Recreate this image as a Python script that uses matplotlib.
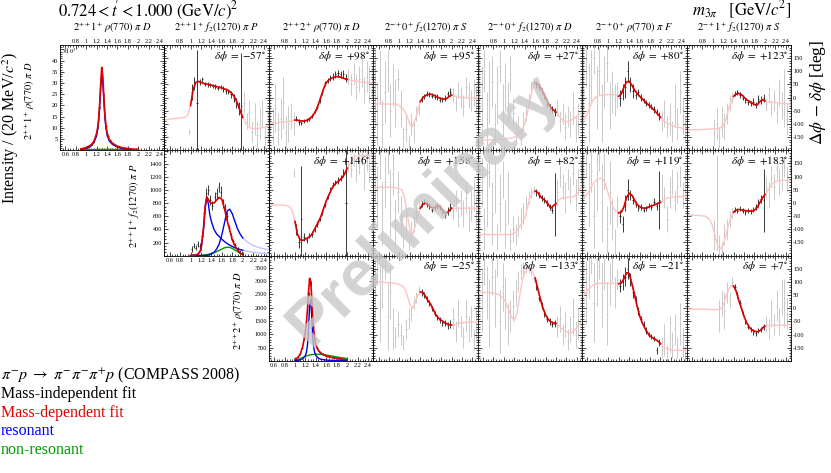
import numpy as np
import matplotlib
matplotlib.use('Agg')
import matplotlib.pyplot as plt
from matplotlib.ticker import MultipleLocator, FuncFormatter

plt.rcParams['font.family'] = ['Liberation Serif', 'DejaVu Serif']
plt.rcParams['mathtext.fontset'] = 'stix'
plt.rcParams['axes.unicode_minus'] = False

# ---- waves (columns = second wave, rows = first wave) ----
wave_titles = [r'$2^{++}1^{+}\ \rho(770)\ \pi\ D$',
               r'$2^{++}1^{+}\ f_2(1270)\ \pi\ P$',
               r'$2^{++}2^{+}\ \rho(770)\ \pi\ D$',
               r'$2^{-+}0^{+}\ f_2(1270)\ \pi\ S$',
               r'$2^{-+}0^{+}\ f_2(1270)\ \pi\ D$',
               r'$2^{-+}0^{+}\ \rho(770)\ \pi\ F$',
               r'$2^{-+}1^{+}\ f_2(1270)\ \pi\ S$']
wave_fit_lo = [0.9, 1.0, 1.0, 1.4, 1.6, 1.2, 1.4]
wave_fit_hi = [2.0, 2.0, 2.0, 2.0, 2.0, 2.0, 2.0]

delta_phi_row0 = [-57, 98, 95, 27, 80, 123]
delta_phi_row1 = [146, 158, 82, 119, 183]
delta_phi_row2 = [-25, -133, -21, 7]

# mass grids [GeV/c^2]
mass_curve = np.round(np.arange(0.50, 2.501, 0.05), 3)   # 41 points
mass_bins = np.round(np.arange(0.525, 2.50, 0.05), 3)    # 40 bins

# ---- phase fit curves (deg) on mass_curve ----
curve_0_1 = [-85, -83, -82, -80, -79, -78, -77, -76, -74, -66,
             -30, 30, 58, 62, 58, 54, 52, 50, 47, 45,
             42, 40, 37, 33, 29, 24, 14, 0, -22, -50,
             -75, -95, -108, -115, -117, -118, -117, -115, -113, -110, -108]
curve_0_2 = [-98, -97, -96, -95, -94, -93, -92, -91, -90, -88,
             -85, -86, -88, -89, -88, -84, -77, -66, -50, -25,
             5, 35, 57, 68, 74, 78, 80, 79, 76, 72,
             69, 67, 65, 63, 62, 60, 59, 58, 57, 56, 55]
curve_0_3 = [-25, -25, -24, -24, -24, -24, -24, -24, -24, -26,
             -30, -38, -52, -72, -100, -110, -85, -50, -15, 0,
             8, 12, 13, 10, 5, 0, -4, -6, -4, 4,
             10, 6, 3, 2, 1, 0, 0, -1, -1, -2, -2]
curve_0_4 = [-162, -162, -161, -161, -160, -160, -160, -159, -159, -158,
             -157, -156, -155, -153, -150, -145, -135, -120, -100, -60,
             -10, 35, 55, 52, 38, 20, 0, -22, -38, -47,
             -55, -68, -80, -88, -91, -90, -85, -78, -70, -63, -58]
curve_0_5 = [-95, -80, -60, -35, -12, 0, 6, 9, 10, 11,
             12, 12, 11, 9, 5, 14, 40, 60, 62, 48,
             30, 16, 6, -4, -15, -24, -32, -42, -52, -63,
             -75, -85, -93, -99, -104, -108, -111, -113, -115, -116, -117]
curve_0_6 = [-123, -123, -122, -122, -122, -121, -121, -120, -120, -119,
             -119, -118, -117, -115, -108, -85, -47, -15, 5, 14,
             16, 12, 2, -8, -14, -20, -26, -28, -16, -8,
             -12, -15, -17, -18, -19, -20, -21, -22, -23, -24, -25]
curve_1_2 = [-8, -8, -8, -8, -8, -8, -9, -11, -15, -30,
             -70, -120, -140, -142, -138, -132, -125, -110, -90, -72,
             -50, -20, 8, 30, 52, 68, 78, 86, 95, 110,
             132, 150, 165, 174, 178, 180, 181, 181, 181, 181, 181]
curve_1_3 = [60, 60, 60, 60, 60, 60, 60, 59, 58, 56,
             54, 50, 20, -40, -100, -120, -90, -50, -20, -5,
             0, -5, -15, -20, -15, -10, -20, -35, -40, -30,
             -20, -20, -20, -20, -20, -20, -20, -20, -20, -20, -20]
curve_1_4 = [-120, -120, -120, -120, -120, -120, -120, -120, -120, -120,
             -120, -120, -120, -119, -115, -105, -90, -75, -60, -20,
             20, 40, 45, 40, 25, 15, 8, -5, -20, -10,
             -3, 10, 18, 20, 21, 22, 22, 25, 35, 50, 65]
curve_1_5 = [15, 22, 35, 52, 70, 83, 90, 94, 90, 70,
             35, 5, -20, -32, -38, -35, -15, 20, 37, 30,
             12, -5, -14, -19, -20, -17, -13, -10, -6, -2,
             2, 10, 16, 19, 21, 22, 23, 24, 24, 25, 25]
curve_1_6 = [-46, -46, -47, -47, -47, -48, -49, -50, -55, -66,
             -88, -130, -168, -175, -160, -125, -85, -55, -35, -27,
             -25, -26, -28, -30, -31, -31, -28, -18, 0, 18,
             32, 45, 60, 73, 80, 84, 86, 86, 85, 84, 83]
curve_2_3 = [100, 100, 100, 99, 99, 98, 97, 96, 95, 93,
             90, 86, 75, 50, 15, 0, 20, 50, 62, 60,
             45, 28, 15, -5, -25, -38, -45, -52, -58, -62,
             -64, -63, -60, -57, -55, -54, -53, -52, -52, -51, -51]
curve_2_4 = [60, 60, 60, 60, 59, 58, 57, 55, 52, 45,
             35, 15, -10, -35, -45, -20, 40, 100, 135, 150,
             150, 138, 115, 75, 35, 0, -25, -42, -52, -56,
             -57, -65, -75, -84, -90, -93, -92, -85, -72, -60, -50]
curve_2_5 = [40, 55, 68, 78, 86, 91, 94, 95, 95, 95,
             95, 95, 94, 93, 93, 96, 112, 135, 132, 95,
             55, 10, -28, -55, -75, -93, -105, -112, -118, -125,
             -135, -145, -152, -156, -158, -159, -160, -160, -160, -160, -160]
curve_2_6 = [-3, -3, -3, -3, -3, -4, -4, -4, -4, -5,
             -5, -5, -5, -3, 10, 40, 70, 86, 85, 65,
             30, 0, -30, -55, -72, -82, -87, -89, -86, -76,
             -68, -66, -66, -66, -65, -65, -64, -64, -64, -63, -63]

# ---- mass-independent phases (deg) and errors on mass_bins ----
N = None
phase_0_1 = [N, N, N, N, N, N, N, N, N, -130,
             20, 55, -20, 60, 70, 52, 50, 48, 45, 42,
             38, 40, 33, 25, 22, 12, 0, -20, -40, -30,
             -20, -90, -60, -130, -80, -140, -100, -60, -150, -110]
err_0_1 = [N, N, N, N, N, N, N, N, N, 12,
           30, 25, 200, 12, 10, 8, 8, 8, 8, 8,
           8, 8, 10, 10, 10, 12, 15, 20, 25, 200,
           40, 30, 50, 40, 60, 50, 60, 50, 40, 60]
phase_0_2 = [-60, -110, -40, -120, -80, -20, -130, -100, -70, -100,
             -80, -92, -95, -88, -86, -82, -70, -52, -35, -10,
             20, 55, 65, 75, 80, 88, 92, 88, 90, 75,
             80, 50, 90, 40, 70, 100, 30, 80, 50, 60]
err_0_2 = [80, 70, 90, 60, 80, 100, 60, 70, 50, 40,
           10, 10, 8, 8, 8, 8, 8, 8, 10, 10,
           10, 10, 10, 10, 12, 12, 12, 12, 15, 15,
           30, 40, 40, 50, 50, 60, 50, 60, 70, 60]
phase_0_3 = [40, -60, 80, -100, 20, 100, -50, 50, -20, 70,
             -40, -150, -120, -170, -100, -130, -60, -40, -5, 5,
             15, 12, 8, 4, 2, -8, -6, -2, 15, 20,
             10, -20, 30, 0, -30, 40, 10, -10, 20, -5]
err_0_3 = [150, 120, 100, 90, 120, 80, 100, 80, 90, 40,
           70, 40, 50, 30, 40, 40, 30, 25, 12, 10,
           10, 10, 10, 10, 10, 10, 10, 12, 12, 15,
           25, 30, 30, 40, 40, 40, 50, 40, 50, 50]
phase_0_4 = [50, -30, 100, -80, 20, 60, -100, 10, 120, -50,
             40, -20, 90, -60, -130, -110, -150, -90, -60, -10,
             40, 65, 50, 40, 25, 5, -25, -35, -45, -55,
             -40, -90, -60, -110, -70, -100, -40, -120, -80, -30]
err_0_4 = [120, 150, 80, 100, 120, 100, 80, 110, 60, 100,
           90, 80, 70, 60, 40, 40, 30, 35, 30, 25,
           20, 15, 12, 12, 12, 12, 12, 12, 15, 15,
           30, 40, 40, 50, 40, 50, 60, 50, 60, 70]
phase_0_5 = [50, 120, -20, 80, 150, 0, 100, -60, 60, 130,
             -30, 20, -10, 10, 0, 20, 40, 100, 50, 25,
             10, 20, 0, -10, -20, -28, -35, -45, -55, -70,
             -90, -60, -110, -80, -130, -30, -100, 20, -70, -120]
err_0_5 = [150, 80, 150, 100, 60, 120, 90, 110, 100, 70,
           90, 80, 60, 50, 30, 30, 40, 40, 30, 25,
           15, 12, 12, 10, 10, 10, 10, 12, 12, 15,
           40, 50, 40, 60, 40, 80, 60, 80, 70, 50]
phase_0_6 = [N, N, N, N, N, N, N, N, N, N,
             -130, -100, -150, -90, -110, -60, -20, 0, 15, 20,
             10, 0, -10, -18, -22, -15, -28, -5, -10, 0,
             -25, 10, -40, -10, -60, 20, -30, 0, -80, 40]
err_0_6 = [N, N, N, N, N, N, N, N, N, N,
           50, 60, 40, 60, 50, 40, 30, 20, 10, 10,
           10, 10, 10, 10, 10, 12, 12, 15, 15, 15,
           25, 30, 30, 40, 40, 50, 50, 110, 60, 70]
phase_1_2 = [N, N, N, N, N, N, N, N, N, 115,
             -100, -150, -60, -130, -140, -125, -118, -100, -80, -60,
             -35, -5, 25, 50, 70, 78, 85, 95, 115, 0,
             140, 130, 165, 120, 150, 175, 100, 160, 130, 170]
err_1_2 = [N, N, N, N, N, N, N, N, N, 15,
           20, 20, 200, 15, 12, 10, 10, 10, 10, 10,
           10, 10, 10, 10, 10, 10, 12, 12, 15, 200,
           20, 30, 25, 40, 40, 30, 50, 40, 50, 40]
phase_1_3 = [100, 20, 150, -40, 80, 160, 0, 110, -80, 40,
             -50, -130, -90, -150, -110, -70, -40, -20, -5, 5,
             -5, -12, -25, -15, -12, -18, -30, -45, -30, -15,
             -30, 10, -50, 0, -40, 20, -60, -10, 30, -30]
err_1_3 = [100, 120, 60, 120, 100, 50, 130, 80, 90, 80,
           80, 40, 50, 30, 40, 40, 30, 20, 12, 10,
           10, 10, 10, 10, 10, 10, 12, 12, 15, 15,
           30, 40, 40, 50, 50, 60, 50, 60, 60, 60]
phase_1_4 = [-50, 80, -100, 30, 120, -40, 60, -130, 0, 90,
             -80, 20, -140, -100, -120, -90, -60, -40, 0, 20,
             40, 50, 40, 30, 20, 10, 0, -15, -25, -5,
             40, 100, 60, 20, 90, 50, 110, 30, 80, 120]
err_1_4 = [120, 90, 80, 120, 60, 120, 100, 50, 110, 70,
           90, 100, 40, 50, 40, 40, 40, 40, 30, 25,
           20, 15, 12, 12, 12, 12, 12, 12, 15, 120,
           50, 40, 50, 60, 40, 50, 40, 60, 50, 40]
phase_1_5 = [100, 150, 30, 120, -50, 80, 160, 0, 120, -100,
             40, -60, -150, -30, -50, -80, 0, 50, 30, 10,
             -5, -20, -15, -25, -20, -10, -15, 5, -10, 10,
             60, 20, -60, 40, 80, 10, 60, 100, 30, 70]
err_1_5 = [100, 50, 120, 80, 120, 110, 40, 150, 70, 90,
           120, 80, 50, 60, 25, 30, 30, 40, 20, 15,
           12, 12, 10, 10, 10, 10, 12, 12, 15, 110,
           50, 40, 50, 60, 50, 40, 60, 40, 50, 60]
phase_1_6 = [N, N, N, N, N, N, N, N, N, N,
             -120, 0, -160, -180, -120, -100, -60, -40, -25, -30,
             -22, -30, -35, -28, -32, -25, -15, 0, 15, 10,
             60, 30, 100, 60, 130, 80, 110, 140, 90, 150]
err_1_6 = [N, N, N, N, N, N, N, N, N, N,
           60, 180, 40, 30, 40, 40, 30, 20, 10, 10,
           10, 10, 10, 10, 10, 10, 12, 15, 15, 120,
           40, 50, 40, 50, 40, 50, 60, 40, 50, 40]
phase_2_3 = [80, 150, 20, 100, 160, -30, 60, -80, -110, -60,
             -100, -130, -80, -40, -20, 20, 40, 70, 60, 50,
             35, 20, 0, -20, -35, -45, -55, -55, -65, -60,
             -40, -90, -20, -70, -110, -30, -80, -50, -120, -60]
err_2_3 = [120, 60, 150, 100, 50, 130, 100, 80, 40, 50,
           40, 30, 40, 40, 30, 25, 20, 15, 12, 12,
           10, 10, 10, 10, 10, 10, 12, 12, 12, 15,
           40, 40, 50, 40, 40, 60, 50, 60, 40, 60]
phase_2_4 = [100, 30, 150, 60, -20, 120, 40, 160, -50, 80,
             20, -60, -30, 10, 60, 100, 140, 150, 155, 150,
             140, 110, 80, 40, 10, -20, -40, -50, -60, -58,
             -70, -40, -100, -60, -120, -80, -30, -100, -60, -150]
err_2_4 = [100, 120, 60, 100, 130, 70, 110, 40, 120, 90,
           100, 80, 60, 60, 50, 40, 30, 25, 20, 15,
           12, 12, 12, 12, 12, 12, 12, 12, 12, 15,
           40, 50, 40, 50, 40, 50, 70, 50, 60, 40]
phase_2_5 = [150, 60, 120, 170, 20, 100, 160, 50, 130, -20,
             90, 150, 60, 110, 85, 100, 120, 150, 110, 60,
             30, -10, -40, -60, -85, -100, -108, -115, -160, -130,
             -150, -120, -170, -100, -140, -80, -150, -60, -130, -170]
err_2_5 = [60, 120, 80, 40, 150, 90, 50, 120, 60, 120,
           80, 50, 60, 40, 25, 30, 35, 40, 25, 20,
           15, 15, 12, 12, 12, 10, 10, 10, 12, 12,
           40, 60, 30, 70, 50, 60, 40, 80, 60, 30]
phase_2_6 = [N, N, N, N, N, N, N, N, N, N, N, N,
             -30, 20, -10, 60, 30, 100, 80, 50,
             20, -20, -50, -70, -80, -90, -95, -85, -80, -70,
             -60, -80, -20, -60, 10, -50, 40, 20, -20, -150]
err_2_6 = [N, N, N, N, N, N, N, N, N, N, N, N,
           60, 50, 70, 40, 30, 20, 12, 12,
           10, 10, 10, 10, 10, 10, 10, 10, 10, 12,
           30, 40, 50, 40, 60, 50, 70, 90, 60, 40]

# ---- intensities ----
# 2++1+ rho pi D  (units of 10^3)
int_mass_0 = [0.90, 1.00, 1.10, 1.15, 1.20, 1.22, 1.24, 1.26, 1.28, 1.30, 1.32,
              1.34, 1.36, 1.38, 1.40, 1.44, 1.50, 1.60, 1.70, 1.80, 1.90, 2.00]
int_total_0 = [0.6, 1.2, 2.5, 4.0, 7.5, 10, 14, 21, 30, 37, 33,
               24, 16, 11, 8, 5, 3.2, 1.8, 1.1, 0.8, 0.5, 0.4]
int_res_0 = [0.3, 0.8, 2.0, 3.4, 6.5, 9, 13, 19.5, 28, 34, 30,
             22, 14.5, 10, 7, 4.3, 2.7, 1.4, 0.8, 0.5, 0.35, 0.25]
int_nonres_0 = [0.1, 0.2, 0.3, 0.35, 0.4, 0.4, 0.4, 0.4, 0.4, 0.4, 0.4,
                0.4, 0.4, 0.4, 0.4, 0.4, 0.4, 0.35, 0.3, 0.25, 0.2, 0.15]

# 2++1+ f2 pi P
int_mass_1 = [1.00, 1.05, 1.10, 1.15, 1.20, 1.25, 1.28, 1.31, 1.34, 1.37, 1.40, 1.45,
              1.50, 1.55, 1.60, 1.65, 1.70, 1.75, 1.80, 1.85, 1.90, 1.95, 2.00]
int_total_1 = [0, 3, 10, 25, 90, 440, 760, 900, 860, 820, 800, 805,
               850, 890, 860, 720, 540, 390, 240, 150, 90, 40, 12]
int_res1_1 = [0, 3, 10, 25, 90, 400, 720, 880, 800, 620, 520, 400,
              330, 290, 250, 215, 185, 160, 140, 120, 105, 92, 82]
int_res2_1 = [0, 0, 0, 0, 0, 1, 2, 4, 8, 14, 25, 50,
              100, 180, 320, 500, 680, 710, 640, 520, 410, 330, 270]
int_nonres_1 = [0, 0, 0, 1, 3, 8, 12, 15, 20, 25, 32, 45,
                60, 80, 100, 120, 128, 125, 110, 85, 60, 35, 20]
ext_mass_1 = [2.0, 2.1, 2.2, 2.3, 2.4, 2.5]
ext_res1_1 = [82, 65, 52, 42, 35, 30]
ext_res2_1 = [270, 200, 155, 125, 105, 90]

# 2++2+ rho pi D
int_mass_2 = [1.00, 1.05, 1.10, 1.15, 1.20, 1.22, 1.24, 1.26, 1.28, 1.30, 1.32,
              1.34, 1.36, 1.38, 1.40, 1.45, 1.50, 1.60, 1.70, 1.80, 1.90, 2.00]
int_total_2 = [60, 120, 250, 550, 1100, 1450, 1950, 2600, 3100, 3000, 2400,
               1700, 1150, 800, 600, 380, 280, 180, 130, 100, 70, 40]
int_res_2 = [10, 20, 40, 80, 200, 330, 600, 1200, 2100, 2300, 1700,
             900, 500, 300, 200, 100, 60, 30, 20, 15, 10, 8]
int_nonres_2 = [0, 30, 80, 130, 170, 185, 200, 210, 220, 230, 235,
                240, 245, 248, 250, 250, 245, 220, 185, 150, 115, 85]

int_data_mass = [1.02, 1.06, 1.10, 1.14, 1.18, 1.22, 1.26, 1.30, 1.34, 1.38, 1.42, 1.46, 1.50,
                 1.54, 1.58, 1.62, 1.66, 1.70, 1.74, 1.78, 1.82, 1.86, 1.90, 1.94, 1.98]
int_data_0 = [1.1, 1.6, 2.4, 3.6, 6.2, 10, 19, 36, 25, 11, 6.5, 4.5, 3.3,
              2.6, 2.0, 1.7, 1.3, 1.1, 0.9, 0.8, 0.7, 0.6, 0.5, 0.45, 0.4]
int_err_0 = [0.2] * 25
int_data_1 = [100, 150, 120, 180, 150, 300, 650, 950, 1000, 850, 760, 900, 950,
              1050, 980, 800, 720, 600, 420, 300, 220, 160, 90, 60, 40]
int_err_1 = [40, 40, 40, 50, 50, 60, 70, 80, 80, 70, 70, 80, 80,
             80, 80, 70, 70, 60, 50, 50, 40, 40, 40, 30, 30]
int_data_2 = [80, 150, 280, 500, 850, 1500, 2500, 2900, 1600, 800, 500, 380, 300,
              250, 200, 170, 150, 130, 120, 100, 100, 90, 70, 60, 50]
int_err_2 = [30, 30, 40, 50, 60, 80, 90, 90, 80, 60, 40, 30, 30,
             30, 30, 30, 30, 25, 25, 25, 25, 25, 25, 25, 25]

phase_curves = {(0, 1): curve_0_1, (0, 2): curve_0_2, (0, 3): curve_0_3, (0, 4): curve_0_4,
                (0, 5): curve_0_5, (0, 6): curve_0_6, (1, 2): curve_1_2, (1, 3): curve_1_3,
                (1, 4): curve_1_4, (1, 5): curve_1_5, (1, 6): curve_1_6, (2, 3): curve_2_3,
                (2, 4): curve_2_4, (2, 5): curve_2_5, (2, 6): curve_2_6}
phase_data = {(0, 1): (phase_0_1, err_0_1), (0, 2): (phase_0_2, err_0_2),
              (0, 3): (phase_0_3, err_0_3), (0, 4): (phase_0_4, err_0_4),
              (0, 5): (phase_0_5, err_0_5), (0, 6): (phase_0_6, err_0_6),
              (1, 2): (phase_1_2, err_1_2), (1, 3): (phase_1_3, err_1_3),
              (1, 4): (phase_1_4, err_1_4), (1, 5): (phase_1_5, err_1_5),
              (1, 6): (phase_1_6, err_1_6), (2, 3): (phase_2_3, err_2_3),
              (2, 4): (phase_2_4, err_2_4), (2, 5): (phase_2_5, err_2_5),
              (2, 6): (phase_2_6, err_2_6)}
delta_phi = [delta_phi_row0, delta_phi_row1, delta_phi_row2]

RED = '#dd0000'
PINK = '#ffc4c4'
BLUE = '#0000ee'
LBLUE = '#c4c4ff'
GREEN = '#009900'
GRAY = '#c2c2c2'
BLACK = '#1a1a1a'

W, H = 831.0, 473.0
X0, Y0, PW, PH = 60.0, 45.0, 104.43, 105.3

fig = plt.figure(figsize=(8.31, 4.73), dpi=100)


def make_axes(r, c):
    left = (X0 + c * PW) / W
    bottom = 1 - (Y0 + (r + 1) * PH) / H
    return fig.add_axes([left, bottom, PW / W, PH / H])


def style(ax, r, c):
    ax.set_xlim(0.5, 2.5)
    ax.xaxis.set_major_locator(MultipleLocator(0.2))
    ax.xaxis.set_minor_locator(MultipleLocator(0.05))
    ax.tick_params(which='both', direction='in', top=True, bottom=True,
                   left=True, right=True, width=0.5, labelsize=4.5, pad=1.5)
    ax.tick_params(which='major', length=3)
    ax.tick_params(which='minor', length=1.5)
    ax.tick_params(labelbottom=(r == c), labelleft=(r == c), labeltop=False,
                   labelright=(c == 6 and r != c))
    ax.xaxis.set_major_formatter(FuncFormatter(lambda v, p: '%g' % round(v, 2)))
    for s in ax.spines.values():
        s.set_linewidth(0.6)
    if r == 0:
        for t in np.arange(0.8, 2.41, 0.2):
            ax.text(t, 1.012, '%g' % round(t, 2), transform=ax.get_xaxis_transform(),
                    ha='center', va='bottom', fontsize=4.5)


def draw_points(ax, x, y, e, lo, hi):
    x = np.asarray(x, dtype=float)
    y = np.array(y, dtype=float)
    e = np.array(e, dtype=float)
    inside = (x >= lo - 1e-6) & (x <= hi + 1e-6)
    ax.errorbar(x[~inside], y[~inside], yerr=e[~inside], xerr=0.012, fmt='none',
                ecolor=GRAY, elinewidth=0.6, zorder=1)
    ax.errorbar(x[inside], y[inside], yerr=e[inside], xerr=0.012, fmt='none',
                ecolor=BLACK, elinewidth=0.6, zorder=3)


# ---- phase panels ----
for (r, c), curve in phase_curves.items():
    ax = make_axes(r, c)
    style(ax, r, c)
    ax.set_ylim(-200, 200)
    ax.yaxis.set_major_locator(MultipleLocator(50))
    ax.yaxis.set_minor_locator(MultipleLocator(10))
    ax.yaxis.set_major_formatter(FuncFormatter(lambda v, p: '' if abs(v) > 160 else '%d' % v))
    lo = max(wave_fit_lo[r], wave_fit_lo[c])
    hi = min(wave_fit_hi[r], wave_fit_hi[c])
    vals, errs = phase_data[(r, c)]
    draw_points(ax, mass_bins, vals, errs, lo, hi)
    cv = np.array(curve, dtype=float)
    ax.plot(mass_curve, cv, color=PINK, lw=1.0, zorder=2)
    m = (mass_curve >= lo - 1e-6) & (mass_curve <= hi + 1e-6)
    ax.plot(mass_curve[m], cv[m], color=RED, lw=1.2, zorder=4)
    d = delta_phi[r][c - r - 1]
    ax.text(0.97, 0.965, r'$\delta\phi\ =\ {%s}%d^{\circ}$' % ('+' if d >= 0 else '-', abs(d)),
            transform=ax.transAxes, ha='right', va='top', fontsize=8, zorder=6)

# ---- intensity panels ----
int_sets = [
    (int_mass_0, int_total_0, [int_res_0], int_nonres_0, int_data_0, int_err_0, 47, 5, 1, 42),
    (int_mass_1, int_total_1, [int_res1_1, int_res2_1], int_nonres_1, int_data_1, int_err_1, 1610, 200, 50, 1500),
    (int_mass_2, int_total_2, [int_res_2], int_nonres_2, int_data_2, int_err_2, 3950, 500, 100, 3700),
]
for r, (mm, tot, res_list, nonres, dat, derr, ymax, maj, mnr, lab_max) in enumerate(int_sets):
    ax = make_axes(r, r)
    style(ax, r, r)
    ax.set_ylim(0, ymax)
    ax.yaxis.set_major_locator(MultipleLocator(maj))
    ax.yaxis.set_minor_locator(MultipleLocator(mnr))
    ax.yaxis.set_major_formatter(FuncFormatter(
        lambda v, p, top=lab_max: '' if (v == 0 or v > top) else '%d' % v))
    if r == 1:
        ax.plot(ext_mass_1, ext_res1_1, color=LBLUE, lw=1.0, zorder=2)
        ax.plot(ext_mass_1, ext_res2_1, color=LBLUE, lw=1.0, zorder=2)
    ax.errorbar(int_data_mass, dat, yerr=derr, xerr=0.012, fmt='none',
                ecolor=BLACK, elinewidth=0.6, zorder=3)
    ax.plot(mm, nonres, color=GREEN, lw=1.0, zorder=4)
    for res in res_list:
        ax.plot(mm, res, color=BLUE, lw=1.0, zorder=4)
    ax.plot(mm, tot, color=RED, lw=1.2, zorder=5)
    if r == 0:
        ax.text(0.02, 0.985, r'$\times10^{3}$', transform=ax.transAxes,
                ha='left', va='top', fontsize=4.5)

# ---- labels ----
for c, title in enumerate(wave_titles):
    fig.text((X0 + (c + 0.5) * PW) / W, 1 - 28 / H, title, ha='center', va='center', fontsize=7.5)
for r in range(3):
    fig.text((X0 + r * PW - 30) / W, 1 - (Y0 + (r + 0.5) * PH + 3) / H, wave_titles[r],
             rotation=90, ha='center', va='center', fontsize=7.5)

fig.text(58 / W, 1 - 11 / H, r"$0.724 < t\!' < 1.000\ (\mathrm{GeV}/c)^2$",
         ha='left', va='center', fontsize=12)
fig.text(791 / W, 1 - 10 / H, r'$m_{3\pi}\quad[\mathrm{GeV}/c^2]$',
         ha='right', va='center', fontsize=12)
fig.text(11 / W, 1 - 128 / H, r'Intensity / (20 MeV/$c^2$)', rotation=90,
         ha='center', va='center', fontsize=11.5)
fig.text(818 / W, 1 - 92 / H, r'$\Delta\phi\,-\,\delta\phi$ [deg]', rotation=90,
         ha='center', va='center', fontsize=12.5)

legend_lines = [(r'$\pi^{-}p\ \rightarrow\ \pi^{-}\pi^{-}\pi^{+}p$ (COMPASS 2008)', 'black'),
                ('Mass-independent fit', 'black'),
                ('Mass-dependent fit', '#e00000'),
                ('resonant', '#0000ff'),
                ('non-resonant', '#009900')]
for i, (txt, col) in enumerate(legend_lines):
    fig.text(1 / W, 1 - (375 + i * 18.8) / H, txt, color=col, ha='left', va='center', fontsize=11.5)

fig.text(424 / W, 1 - 210 / H, 'Preliminary', rotation=45, fontsize=47,
         fontweight='bold', family='Liberation Sans', color='#c8c8c8', alpha=0.8,
         ha='center', va='center', zorder=100)

fig.savefig('out.png', dpi=100)
